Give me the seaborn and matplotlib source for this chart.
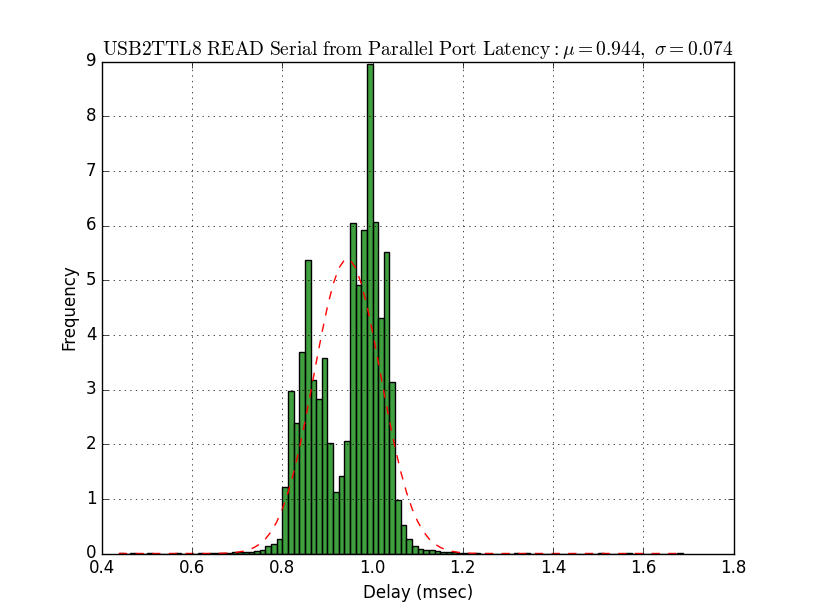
import numpy as np
import pandas as pd
import matplotlib
matplotlib.use("Agg")
import matplotlib.pyplot as plt
import seaborn as sns

plt.style.use("classic")

# ---- data ----
bin_start = 0.4375
bin_width = 0.0125

heights_left = [0.01, 0, 0.01, 0, 0, 0.01, 0, 0, 0, 0,
                0.01, 0, 0, 0, 0.01, 0, 0.01, 0.01, 0.01, 0.01,
                0.02, 0.02, 0.03, 0.03, 0.04, 0.07, 0.13, 0.17, 0.26]
heights_core = [1.215, 2.97, 2.38, 3.68, 5.36, 3.18, 2.83, 3.57, 2.03, 1.13,
                1.41, 2.05, 6.04, 4.92, 5.92, 8.96, 6.06, 4.31, 5.52, 3.13]
heights_right = [0.97, 0.52, 0.27, 0.14, 0.09, 0.07, 0.055, 0.04, 0.03, 0.02,
                 0.02, 0.01, 0.01, 0, 0.01, 0, 0, 0, 0, 0,
                 0, 0.01, 0, 0.01, 0, 0, 0, 0, 0, 0,
                 0, 0, 0, 0, 0, 0, 0.01, 0, 0, 0,
                 0, 0.01, 0, 0, 0, 0, 0, 0, 0, 0,
                 0.01]

mu = 0.944
sigma = 0.074

title = r"$\mathrm{USB2TTL8\ READ\ Serial\ from\ Parallel\ Port\ Latency}:\mu=0.944,\ \sigma=0.074$"
xlabel = "Delay (msec)"
ylabel = "Frequency"

heights = np.array(heights_left + heights_core + heights_right, dtype=float)
n_bins = len(heights)
edges = bin_start + bin_width * np.arange(n_bins + 1)
centers = (edges[:-1] + edges[1:]) / 2
df = pd.DataFrame({"delay": centers, "density": heights})

pdf = 1.0 / (sigma * np.sqrt(2 * np.pi)) * np.exp(-0.5 * ((edges - mu) / sigma) ** 2)
curve = pd.DataFrame({"x": edges, "y": pdf})

fig = plt.figure(figsize=(8.15, 6.15), dpi=100)
ax = fig.add_axes([0.125, 0.1, 0.775, 0.8])

sns.histplot(data=df, x="delay", weights="density", bins=n_bins,
             binrange=(float(edges[0]), float(edges[-1])), stat="count",
             color="green", alpha=0.75, edgecolor="black", linewidth=1,
             ax=ax)
sns.lineplot(data=curve, x="x", y="y", color="red", linestyle="--",
             linewidth=1, ax=ax)

ax.set_xlim(0.4, 1.8)
ax.set_ylim(0, 9)
ax.set_xticks(np.arange(0.4, 1.81, 0.2))
ax.set_xticklabels(["0.4", "0.6", "0.8", "1.0", "1.2", "1.4", "1.6", "1.8"])
ax.set_yticks(range(0, 10))
ax.grid(True, color="black", linestyle=":", linewidth=0.5)
ax.set_axisbelow(False)
ax.set_xlabel(xlabel, fontsize=12)
ax.set_ylabel(ylabel, fontsize=12)
ax.set_title(title, fontsize=14)
ax.tick_params(labelsize=12)

fig.savefig("out.png", dpi=100, facecolor="white")
